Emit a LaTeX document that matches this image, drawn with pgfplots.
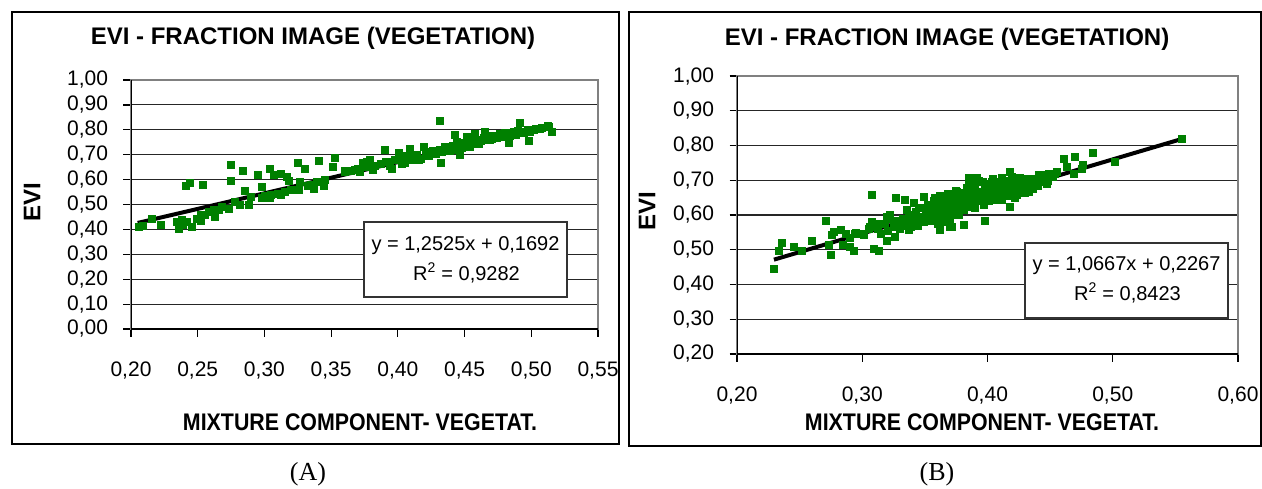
\documentclass[border=0pt]{standalone}
\usepackage{pgfplots}
\pgfplotsset{compat=1.18}
\usepackage{fontspec}
\setmainfont{Liberation Sans}
\newfontfamily\seriffont{Liberation Serif}
\definecolor{excelgreen}{RGB}{0,128,0}
\definecolor{bordergray}{RGB}{128,128,128}
\pgfplotsset{
  excel/.style={
    scale only axis,
    axis line style={draw=bordergray, line width=1.5pt},
    tick align=outside,
    major tick length=7.5pt,
    tick style={black, line width=1.2pt},
    xtick pos=bottom, ytick pos=left,
    ymajorgrids, xmajorgrids=false,
    grid style={black!85, line width=1.1pt},
    ticklabel style={font=\fontsize{21}{21}\selectfont},
    xticklabel={\pgfmathprintnumber{\tick}},
    yticklabel={\pgfmathprintnumber{\tick}},
    xticklabel style={anchor=base, yshift=-39.5pt},
    yticklabel style={anchor=east, xshift=-12pt},
    /pgf/number format/.cd, fixed, fixed zerofill, precision=2, use comma, assume math mode=true,
    /pgfplots/.cd,
  },
  pts/.style={only marks, mark=square*, mark size=3.5pt, color=excelgreen,
    mark options={draw=excelgreen, fill=excelgreen}},
  trend/.style={no marks, black, line width=4pt},
}
\begin{document}
\begin{tikzpicture}
\path[use as bounding box] (0pt,0pt) rectangle (1262pt,-488pt);
% panel borders
\draw[line width=1.3pt] (12pt,-12pt) rectangle (619pt,-444pt);
\draw[line width=1.3pt] (629pt,-12pt) rectangle (1261pt,-446pt);

% ---------------- Panel A
\begin{axis}[excel, at={(131pt,-329pt)}, anchor=south west,
  width=467pt, height=249pt,
  xmin=0.2, xmax=0.55, ymin=0, ymax=1,
  xtick={0.2,0.25,0.3,0.35,0.4,0.45,0.5,0.55},
  ytick={0,0.1,0.2,0.3,0.4,0.5,0.6,0.7,0.8,0.9,1.0}]
\addplot[pts] coordinates {
(0.2055,0.411) (0.209,0.414) (0.2155,0.444) (0.2225,0.418) (0.234,0.431)
(0.2355,0.404) (0.238,0.438) (0.239,0.418) (0.2417,0.431) (0.2455,0.411)
(0.241,0.574) (0.244,0.588) (0.2537,0.581) (0.249,0.444) (0.2525,0.458)
(0.2525,0.435) (0.2617,0.478) (0.2625,0.451) (0.2655,0.481) (0.2735,0.483)
(0.275,0.661) (0.275,0.596) (0.2835,0.636) (0.285,0.555) (0.2817,0.501)
(0.288,0.501) (0.295,0.618) (0.298,0.572) (0.298,0.529) (0.3037,0.645)
(0.3067,0.618) (0.3042,0.529) (0.3125,0.622) (0.3167,0.612) (0.318,0.594)
(0.3125,0.541) (0.3155,0.551) (0.325,0.668) (0.3305,0.645) (0.3255,0.561)
(0.3267,0.590) (0.3325,0.574) (0.3367,0.565) (0.339,0.592) (0.341,0.676)
(0.3442,0.574) (0.3509,0.652) (0.3525,0.686) (0.3605,0.636) (0.368,0.639)
(0.374,0.668) (0.3717,0.632) (0.3767,0.672) (0.379,0.681) (0.381,0.641)
(0.3904,0.722) (0.3912,0.672) (0.3955,0.643) (0.4004,0.708) (0.403,0.665)
(0.4091,0.726) (0.4104,0.679) (0.4154,0.679) (0.4191,0.732) (0.4241,0.706)
(0.4316,0.837) (0.4321,0.668) (0.4354,0.732) (0.4429,0.779) (0.4442,0.752)
(0.4461,0.699) (0.4517,0.772) (0.4541,0.732) (0.4579,0.786) (0.4604,0.746)
(0.4654,0.792) (0.4691,0.759) (0.4741,0.772) (0.4791,0.786) (0.4829,0.748)
(0.4866,0.792) (0.4916,0.828) (0.4929,0.792) (0.4978,0.756) (0.5016,0.799)
(0.5066,0.806) (0.5129,0.812) (0.5154,0.792)
(0.255,0.460) (0.258,0.470) (0.268,0.490) (0.278,0.510) (0.290,0.530)
(0.300,0.535) (0.305,0.540) (0.310,0.545) (0.320,0.560) (0.335,0.580)
(0.345,0.600) (0.360,0.630) (0.365,0.635) (0.370,0.645) (0.375,0.650)
(0.383,0.655) (0.387,0.662) (0.392,0.670) (0.394,0.655) (0.398,0.678)
(0.402,0.686) (0.405,0.668) (0.407,0.695) (0.412,0.690) (0.414,0.700)
(0.417,0.685) (0.421,0.712) (0.423,0.698) (0.426,0.716) (0.428,0.703)
(0.431,0.722) (0.433,0.712) (0.437,0.725) (0.439,0.716) (0.441,0.735)
(0.443,0.722) (0.446,0.740) (0.448,0.728) (0.450,0.748) (0.452,0.736)
(0.455,0.752) (0.457,0.745) (0.459,0.762) (0.462,0.755) (0.464,0.770)
(0.466,0.760) (0.468,0.775) (0.470,0.765) (0.472,0.778) (0.474,0.770)
(0.476,0.785) (0.478,0.772) (0.480,0.788) (0.482,0.780) (0.484,0.775)
(0.486,0.790) (0.488,0.782) (0.490,0.795) (0.494,0.788) (0.497,0.800)
(0.499,0.792) (0.503,0.805) (0.508,0.810) (0.512,0.818)
};
\addplot[trend] coordinates {(0.205,0.4260) (0.516,0.8155)};
\draw[black, line width=1.3pt] (rel axis cs:0,1) -- (rel axis cs:0,0) -- (rel axis cs:1,0);
\end{axis}

% ---------------- Panel B
\begin{axis}[excel, at={(737pt,-354pt)}, anchor=south west,
  width=501pt, height=278pt,
  xmin=0.2, xmax=0.6, ymin=0.2, ymax=1,
  xtick={0.2,0.3,0.4,0.5,0.6},
  ytick={0.2,0.3,0.4,0.5,0.6,0.7,0.8,0.9,1.0}]
\addplot[pts] coordinates {
(0.2295,0.4446) (0.233,0.496) (0.2357,0.520) (0.245,0.509) (0.2517,0.497)
(0.2596,0.526) (0.2708,0.583) (0.2729,0.514) (0.2751,0.485) (0.2756,0.542)
(0.2769,0.552) (0.2828,0.559) (0.2844,0.514) (0.287,0.545) (0.2902,0.509)
(0.2934,0.496) (0.2942,0.547) (0.3008,0.542) (0.3062,0.566) (0.3075,0.658)
(0.3075,0.581) (0.3088,0.504) (0.3128,0.496) (0.3142,0.576) (0.3195,0.595)
(0.3195,0.526) (0.3222,0.600) (0.3261,0.538) (0.3269,0.651) (0.3275,0.566)
(0.3341,0.643) (0.3355,0.614) (0.3368,0.557) (0.3408,0.634) (0.3421,0.576)
(0.3461,0.595) (0.3488,0.653) (0.3515,0.614) (0.3568,0.638) (0.3621,0.557)
(0.3661,0.648) (0.3701,0.566) (0.3674,0.605) (0.3727,0.658) (0.3754,0.624)
(0.3701,0.643) (0.3714,0.566) (0.3754,0.667) (0.3807,0.571) (0.3847,0.706)
(0.386,0.638) (0.3914,0.706) (0.3927,0.667) (0.398,0.583) (0.3994,0.686)
(0.4034,0.696) (0.4074,0.643) (0.4113,0.706) (0.414,0.667) (0.418,0.725)
(0.418,0.624) (0.4233,0.658) (0.426,0.706) (0.4326,0.667) (0.434,0.701)
(0.4406,0.717) (0.4473,0.691) (0.4486,0.720) (0.4553,0.725) (0.4605,0.763)
(0.4632,0.739) (0.4685,0.720) (0.4699,0.768) (0.4752,0.734) (0.476,0.746)
(0.4837,0.778) (0.5012,0.753) (0.555,0.819)
(0.290,0.535) (0.295,0.550) (0.300,0.545) (0.305,0.560) (0.312,0.560)
(0.315,0.545) (0.318,0.575) (0.320,0.555) (0.322,0.590) (0.325,0.565)
(0.328,0.585)
(0.330,0.560) (0.332,0.590) (0.335,0.575) (0.337,0.600) (0.339,0.565)
(0.341,0.585) (0.343,0.610) (0.344,0.570) (0.346,0.595) (0.348,0.620)
(0.349,0.580) (0.351,0.600) (0.352,0.630) (0.354,0.585) (0.355,0.610)
(0.357,0.640) (0.358,0.595) (0.359,0.620) (0.361,0.650) (0.362,0.600)
(0.363,0.630) (0.365,0.610) (0.366,0.645) (0.367,0.590) (0.369,0.625)
(0.370,0.655) (0.371,0.605) (0.373,0.635) (0.374,0.615) (0.376,0.650)
(0.377,0.600) (0.378,0.630) (0.380,0.665) (0.381,0.615) (0.382,0.645)
(0.384,0.625) (0.385,0.690) (0.386,0.655) (0.388,0.635) (0.389,0.670)
(0.390,0.620) (0.391,0.650) (0.393,0.700) (0.394,0.640) (0.395,0.665)
(0.397,0.630) (0.398,0.680) (0.399,0.655) (0.401,0.640) (0.402,0.690)
(0.403,0.665) (0.405,0.650) (0.406,0.675) (0.407,0.695) (0.409,0.660)
(0.410,0.680) (0.411,0.645) (0.413,0.670) (0.414,0.700) (0.415,0.655)
(0.417,0.685) (0.418,0.665) (0.419,0.710) (0.421,0.675) (0.422,0.650)
(0.424,0.690) (0.425,0.670) (0.427,0.700) (0.428,0.680) (0.430,0.665)
(0.431,0.695) (0.433,0.685) (0.435,0.705) (0.436,0.675) (0.438,0.695)
(0.440,0.685) (0.442,0.710) (0.444,0.695) (0.446,0.715) (0.448,0.700)
(0.450,0.720) (0.452,0.710) (0.454,0.718)
(0.355,0.625) (0.358,0.650) (0.360,0.635) (0.362,0.655) (0.364,0.640)
(0.368,0.660) (0.372,0.645) (0.375,0.670) (0.379,0.650) (0.383,0.680)
(0.387,0.700) (0.390,0.690) (0.392,0.660) (0.396,0.695) (0.400,0.670)
(0.404,0.705) (0.408,0.690) (0.412,0.685) (0.416,0.695) (0.420,0.690)
(0.423,0.705) (0.426,0.690) (0.429,0.700) (0.432,0.705) (0.437,0.700)
(0.441,0.700) (0.445,0.705) (0.356,0.600) (0.360,0.590) (0.364,0.595)
(0.368,0.605) (0.372,0.615) (0.376,0.625) (0.380,0.630) (0.384,0.640)
(0.388,0.650) (0.392,0.640) (0.396,0.650) (0.400,0.655) (0.404,0.660)
(0.408,0.670) (0.412,0.660) (0.416,0.675) (0.420,0.680) (0.424,0.675)
(0.428,0.690) (0.432,0.680) (0.345,0.620) (0.340,0.600) (0.335,0.590)
(0.333,0.570) (0.338,0.580) (0.347,0.585) (0.353,0.595) (0.360,0.575)
(0.365,0.580) (0.370,0.590) (0.375,0.600)
};
\addplot[trend] coordinates {(0.2295,0.4715) (0.5564,0.8202)};
\draw[black, line width=1.3pt] (rel axis cs:0,1) -- (rel axis cs:0,0) -- (rel axis cs:1,0);
\end{axis}

% equation boxes
\draw[line width=1.1pt, draw=black!80, fill=white] (364pt,-222pt) rectangle (567pt,-297pt);
\node[anchor=base, font=\fontsize{20}{20}\selectfont, inner sep=0pt] at (465.5pt,-250.5pt) {y = 1,2525x + 0,1692};
\node[anchor=base, font=\fontsize{20}{20}\selectfont, inner sep=0pt] at (466.5pt,-280.5pt) {R\textsuperscript{2} = 0,9282};
\draw[line width=1.1pt, draw=black!80, fill=white] (1025pt,-243pt) rectangle (1228pt,-318pt);
\node[anchor=base, font=\fontsize{20}{20}\selectfont, inner sep=0pt] at (1126.5pt,-270.5pt) {y = 1,0667x + 0,2267};
\node[anchor=base, font=\fontsize{20}{20}\selectfont, inner sep=0pt] at (1127.5pt,-300.5pt) {R\textsuperscript{2} = 0,8423};

% titles
\node[anchor=base, font=\bfseries\fontsize{24}{24}\selectfont, inner sep=0pt] at (313pt,-44pt) {EVI - FRACTION IMAGE (VEGETATION)};
\node[anchor=base, font=\bfseries\fontsize{24}{24}\selectfont, inner sep=0pt] at (947pt,-45pt) {EVI - FRACTION IMAGE (VEGETATION)};
% x labels
\node[anchor=base, font=\bfseries\fontsize{24}{24}\selectfont, inner sep=0pt] at (360pt,-430pt) {\scalebox{0.89}[1]{MIXTURE COMPONENT- VEGETAT.}};
\node[anchor=base, font=\bfseries\fontsize{24}{24}\selectfont, inner sep=0pt] at (982pt,-430pt) {\scalebox{0.89}[1]{MIXTURE COMPONENT- VEGETAT.}};
% y labels
\node[rotate=90, font=\bfseries\fontsize{24}{24}\selectfont, inner sep=0pt] at (32pt,-202pt) {EVI};
\node[rotate=90, font=\bfseries\fontsize{24}{24}\selectfont, inner sep=0pt] at (647pt,-211pt) {EVI};
% captions
\node[anchor=base, font=\seriffont\fontsize{26}{26}\selectfont, inner sep=0pt] at (308pt,-480pt) {(A)};
\node[anchor=base, font=\seriffont\fontsize{26}{26}\selectfont, inner sep=0pt] at (937pt,-480pt) {(B)};
\end{tikzpicture}
\end{document}
